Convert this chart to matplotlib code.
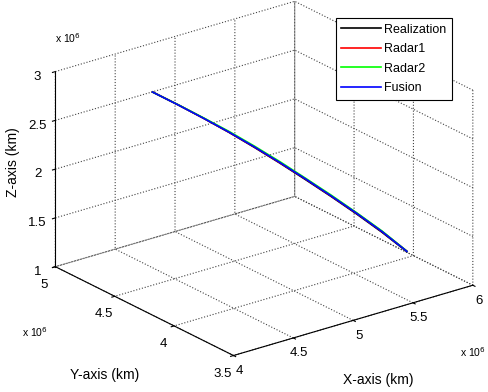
import matplotlib
matplotlib.use("Agg")
import matplotlib.pyplot as plt
from matplotlib.ticker import FuncFormatter
from matplotlib.transforms import ScaledTranslation

plt.rcParams['font.family'] = ['Liberation Sans', 'DejaVu Sans']
plt.rcParams['font.size'] = 8

# Trajectory data (km)
x_real = [4.600e6, 4.740e6, 4.880e6, 5.020e6, 5.160e6, 5.300e6, 5.440e6, 5.580e6, 5.720e6, 5.860e6, 5.995e6]
y_real = [4.787e6, 4.714e6, 4.640e6, 4.566e6, 4.492e6, 4.419e6, 4.345e6, 4.271e6, 4.198e6, 4.124e6, 4.050e6]
z_real = [2.704e6, 2.567e6, 2.424e6, 2.273e6, 2.113e6, 1.946e6, 1.772e6, 1.594e6, 1.409e6, 1.215e6, 1.012e6]

x_r1 = [4.601e6, 4.741e6, 4.879e6, 5.021e6, 5.161e6, 5.299e6, 5.441e6, 5.579e6, 5.721e6, 5.861e6, 5.996e6]
y_r1 = [4.787e6, 4.715e6, 4.639e6, 4.567e6, 4.493e6, 4.418e6, 4.346e6, 4.270e6, 4.199e6, 4.125e6, 4.051e6]
z_r1 = [2.704e6, 2.567e6, 2.425e6, 2.275e6, 2.116e6, 1.951e6, 1.778e6, 1.600e6, 1.415e6, 1.221e6, 1.016e6]

x_r2 = [4.600e6, 4.739e6, 4.881e6, 5.019e6, 5.159e6, 5.301e6, 5.439e6, 5.581e6, 5.719e6, 5.859e6, 5.994e6]
y_r2 = [4.786e6, 4.713e6, 4.641e6, 4.565e6, 4.491e6, 4.420e6, 4.344e6, 4.272e6, 4.197e6, 4.123e6, 4.049e6]
z_r2 = [2.704e6, 2.570e6, 2.427e6, 2.284e6, 2.127e6, 1.960e6, 1.787e6, 1.607e6, 1.423e6, 1.229e6, 1.018e6]

x_fu = [4.600e6, 4.740e6, 4.880e6, 5.020e6, 5.160e6, 5.300e6, 5.440e6, 5.580e6, 5.720e6, 5.860e6, 5.995e6]
y_fu = [4.787e6, 4.714e6, 4.640e6, 4.566e6, 4.492e6, 4.419e6, 4.345e6, 4.271e6, 4.198e6, 4.124e6, 4.050e6]
z_fu = [2.704e6, 2.567e6, 2.424e6, 2.276e6, 2.118e6, 1.952e6, 1.779e6, 1.600e6, 1.416e6, 1.222e6, 1.015e6]

x_ticks = [4.0e6, 4.5e6, 5.0e6, 5.5e6, 6.0e6]
y_ticks = [3.5e6, 4.0e6, 4.5e6, 5.0e6]
z_ticks = [1.0e6, 1.5e6, 2.0e6, 2.5e6, 3.0e6]

fig = plt.figure(figsize=(4.89, 3.92), dpi=100)
ax = fig.add_axes([0.0088, 0.0108, 1.04, 1.04], projection='3d', proj_type='ortho')
ax.view_init(elev=22.5, azim=-127.5)
ax.set_box_aspect((1.0, 0.97, 0.70), zoom=1.12)
ax.computed_zorder = False

ax.plot(x_real, y_real, z_real, color='black', lw=1.2, label='Realization', zorder=3)
ax.plot(x_r1, y_r1, z_r1, color='red', lw=1.2, label='Radar1', zorder=4)
ax.plot(x_r2, y_r2, z_r2, color='#00ff00', lw=1.2, label='Radar2', zorder=5)
ax.plot(x_fu, y_fu, z_fu, color='blue', lw=1.2, label='Fusion', zorder=6)

ax.set_xlim(x_ticks[0], x_ticks[-1])
ax.set_ylim(y_ticks[0], y_ticks[-1])
ax.set_zlim(z_ticks[0], z_ticks[-1])
ax.set_xticks(x_ticks)
ax.set_yticks(y_ticks)
ax.set_zticks(z_ticks)
fmt = FuncFormatter(lambda v, p: ('%g' % (v / 1e6)))
ax.xaxis.set_major_formatter(fmt)
ax.yaxis.set_major_formatter(fmt)
ax.zaxis.set_major_formatter(fmt)
ax.tick_params(axis='x', labelsize=9.5, pad=-3)
ax.tick_params(axis='y', labelsize=9.5, pad=-1)
ax.tick_params(axis='z', labelsize=9.5, pad=-1.5)
shift = ScaledTranslation(0.07, -0.01, fig.dpi_scale_trans)
for t in ax.xaxis.get_major_ticks():
    t.label1.set_transform(t.label1.get_transform() + shift)

for axis in (ax.xaxis, ax.yaxis, ax.zaxis):
    axis.set_pane_color((1, 1, 1, 0))
    axis.pane.set_edgecolor('none')
    axis._axinfo['grid'].update({'color': '#444444', 'linestyle': ':', 'linewidth': 0.8})
    axis._axinfo['tick'].update({'inward_factor': 0.15, 'outward_factor': 0.0})
    axis.line.set_color('black')
    axis.line.set_linewidth(0.8)

ax.set_xlabel('')
ax.set_ylabel('')
ax.set_zlabel('')
fig.text(378 / 489, 1 - 380 / 392, 'X-axis (km)', fontsize=10, ha='center', va='center')
fig.text(105 / 489, 1 - 375 / 392, 'Y-axis (km)', fontsize=10, ha='center', va='center')
fig.text(13 / 489, 1 - 162 / 392, 'Z-axis (km)', fontsize=10, ha='center', va='center', rotation=90)

leg = ax.legend(loc='upper right', bbox_to_anchor=(0.924, 0.954), bbox_transform=fig.transFigure,
                borderaxespad=0, fontsize=9, frameon=True, fancybox=False, edgecolor='black',
                framealpha=1, handlelength=3.2, handletextpad=0.2, borderpad=0.45, labelspacing=0.6)
leg.get_frame().set_linewidth(0.8)

fig.text(0.112, 0.89, r'x 10$^6$', fontsize=7.5)
fig.text(0.045, 0.14, r'x 10$^6$', fontsize=7.5)
fig.text(0.941, 0.089, r'x 10$^6$', fontsize=7.5)

fig.savefig('out.png', dpi=100)
